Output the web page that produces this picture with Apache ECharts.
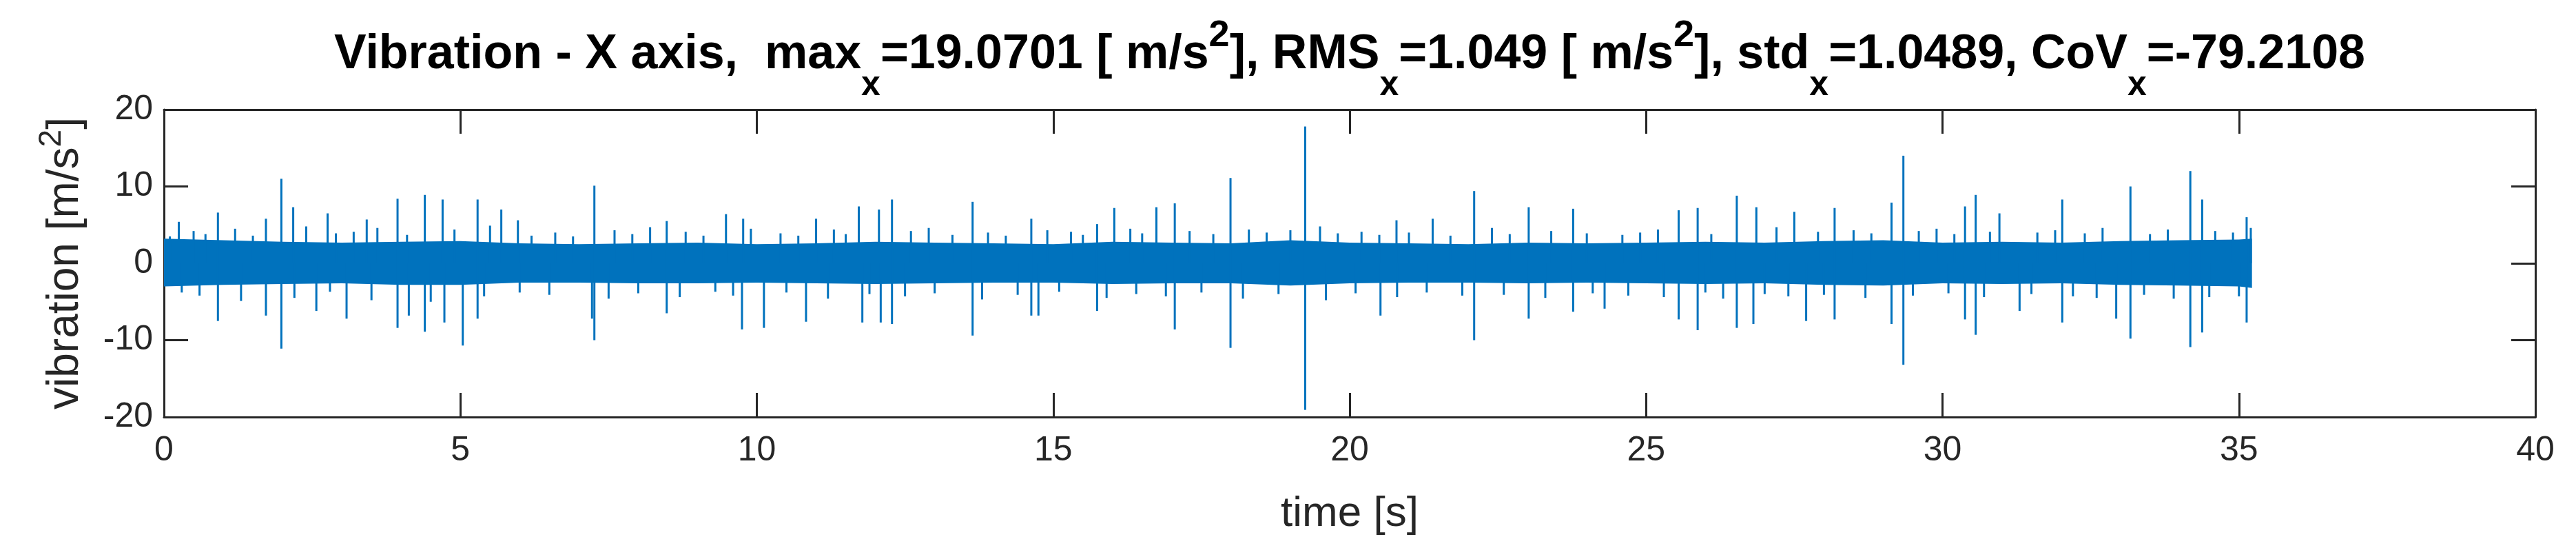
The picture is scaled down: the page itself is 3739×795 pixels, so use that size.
<!DOCTYPE html>
<html>
<head>
<meta charset="utf-8">
<script src="https://cdn.jsdelivr.net/npm/echarts@6/dist/echarts.min.js"></script>
<style>html,body{margin:0;padding:0;background:#fff}#chart{width:3739px;height:795px}</style>
</head>
<body>
<div id="chart"></div>
<script>
// core band of the signal, read once per second
const bandTimes = [0,1,2,3,4,5,6,7,8,9,10,11,12,13,14,15,16,17,18,19,20,21,22,23,24,25,26,27,28,29,30,31,32,33,34,35,35.22];
const bandUpper = [3.2,3.0,2.8,2.7,2.8,2.9,2.6,2.5,2.6,2.7,2.5,2.6,2.8,2.7,2.6,2.5,2.8,2.7,2.6,3.0,2.7,2.6,2.5,2.7,2.6,2.7,2.8,2.7,2.9,3.0,2.7,2.8,2.7,2.9,3.0,3.1,3.2];
const bandLower = [-3.0,-2.8,-2.7,-2.6,-2.8,-2.8,-2.5,-2.5,-2.6,-2.6,-2.5,-2.6,-2.7,-2.6,-2.5,-2.5,-2.7,-2.6,-2.6,-2.9,-2.6,-2.5,-2.5,-2.6,-2.5,-2.6,-2.7,-2.6,-2.8,-2.9,-2.6,-2.7,-2.6,-2.8,-2.9,-3.0,-3.2];

// big spikes [time s, value m/s^2]
const spikeTimes = [0.25,0.91,1.72,1.98,2.18,2.76,3.42,3.94,4.40,4.70,5.29,5.69,5.97,7.26,8.48,9.48,9.77,11.0,11.72,12.06,12.28,13.64,14.63,15.74,16.03,16.74,17.05,17.99,19.25,20.79,21.4,22.10,23.02,23.77,25.55,25.87,26.53,26.86,27.5,28.18,29.14,29.34,30.38,30.56,30.96,32.02,33.17,34.18,34.38,35.13,
  0.91,1.72,1.98,2.57,3.08,3.94,4.13,4.40,4.73,5.04,5.29,7.22,7.26,8.48,9.75,10.12,10.83,11.78,12.09,12.28,13.64,14.63,14.75,15.74,17.05,17.99,19.25,20.52,22.10,23.02,23.77,24.3,25.55,25.87,26.53,26.81,27.7,28.18,29.14,29.34,30.38,30.56,31.3,32.02,32.93,33.17,34.18,34.38,35.13];
const spikeValues = [5.4,6.6,5.8,11.0,7.3,6.5,5.7,8.4,8.9,8.3,8.3,7.0,5.6,10.1,5.5,6.4,5.8,5.8,7.4,7.0,8.3,8.0,5.8,5.1,7.2,7.3,7.8,11.1,17.8,5.6,5.8,9.4,7.3,7.1,6.9,7.2,8.8,7.3,6.7,7.2,7.9,14.0,7.4,8.9,6.5,8.3,10.0,12.0,8.3,6.0,
  -7.5,-6.8,-11.1,-6.2,-7.2,-8.4,-6.8,-8.9,-7.7,-10.7,-7.2,-7.2,-10.0,-6.5,-8.6,-8.4,-7.6,-7.7,-7.7,-7.9,-9.4,-6.8,-6.8,-6.2,-8.6,-11.0,-19.07,-6.8,-10.0,-7.2,-6.3,-5.9,-7.3,-8.7,-8.4,-7.9,-7.5,-7.3,-7.9,-13.2,-7.3,-9.3,-6.2,-7.7,-7.2,-9.8,-10.9,-9.0,-7.7];

// smaller bursts at the edge of the band
const burstTimes = [0.1,0.5,0.7,1.2,1.5,2.4,2.9,3.2,3.6,4.1,4.9,5.5,6.2,6.6,6.9,7.6,7.9,8.2,8.8,9.1,9.9,10.4,10.7,11.3,11.5,12.6,12.9,13.3,13.9,14.2,14.9,15.3,15.5,16.3,16.5,17.3,17.7,18.3,18.6,19.0,19.5,19.8,20.2,20.5,21.0,21.7,22.4,22.7,23.4,24.0,24.6,24.9,25.2,26.1,27.2,27.9,28.5,28.8,29.6,29.9,30.2,30.8,31.6,31.9,32.4,32.7,33.5,33.8,34.6,34.9,35.2,
  0.3,0.6,1.3,2.2,2.8,3.5,4.5,5.4,6.0,6.5,7.5,8.0,8.7,9.3,9.6,10.5,11.2,11.9,12.5,13.0,13.8,14.4,15.1,15.9,16.4,16.9,17.5,18.2,18.8,19.6,20.1,20.8,21.3,21.9,22.6,23.3,24.1,24.7,25.3,26.0,26.3,27.0,27.4,28.0,28.7,29.5,30.1,30.7,31.5,32.2,32.6,33.4,33.9,34.5,35.0];
const burstValues = [3.5,4.2,3.8,4.5,3.6,4.8,3.9,4.1,4.6,3.7,4.4,4.9,3.6,4.0,3.5,4.3,3.8,4.7,4.1,3.6,4.5,3.9,3.6,4.4,3.8,4.2,4.6,3.7,4.0,3.6,4.3,4.1,3.7,4.5,3.9,4.2,3.8,4.4,4.0,4.3,4.8,3.9,4.1,3.7,4.0,3.6,4.6,3.8,4.2,3.9,3.7,4.0,4.4,3.8,4.7,4.1,4.3,3.9,4.2,4.5,3.8,4.1,4.0,4.3,3.9,4.6,3.8,4.4,4.2,4.0,4.6,
  -3.8,-4.2,-4.9,-4.5,-3.7,-4.8,-5.0,-4.3,-3.8,-4.1,-4.6,-3.9,-4.4,-3.7,-4.2,-3.8,-4.6,-4.0,-4.3,-3.9,-4.7,-4.1,-3.7,-4.5,-4.0,-4.3,-3.8,-4.6,-4.0,-4.8,-3.9,-4.4,-3.8,-4.2,-4.1,-4.5,-3.9,-4.2,-4.4,-3.8,-4.6,-4.0,-4.3,-4.1,-4.5,-4.2,-3.9,-4.4,-4.0,-4.3,-4.5,-4.1,-4.6,-4.4,-4.3];

// title pieces: [text, kind]
const titleParts = [
  ['Vibration - X axis,  max', 'n'], ['x', 'sub'], ['=19.0701 [ m/s', 'n'], ['2', 'sup'], ['], RMS', 'n'], ['x', 'sub'],
  ['=1.049 [ m/s', 'n'], ['2', 'sup'], ['], std', 'n'], ['x', 'sub'], ['=1.0489, CoV', 'n'], ['x', 'sub'], ['=-79.2108', 'n']
];

const blue = '#0072BD';
const axisColor = '#262626';
const font = 'Liberation Sans, Arial, Helvetica, sans-serif';

const chart = echarts.init(document.getElementById('chart'), null, { renderer: 'canvas' });

const pairs = (xs, ys) => xs.map((t, i) => [t, ys[i]]);

// title laid out piece by piece so sub/superscripts sit right
const sizes = { n: 70, sub: 50, sup: 54 };
const shifts = { n: 0, sub: 44, sup: -28 };
const ctx = document.createElement('canvas').getContext('2d');
const widths = titleParts.map(([t, k]) => { ctx.font = 'bold ' + sizes[k] + 'px ' + font; return ctx.measureText(t).width; });
const total = widths.reduce((a, b) => a + b, 0);
let cx = 1959 - total / 2;
const titleEls = titleParts.map(([t, k], i) => {
  const el = {
    type: 'text', x: cx, y: 80 + shifts[k],
    style: { text: t, fill: '#000', font: 'bold ' + sizes[k] + 'px ' + font, textVerticalAlign: 'middle' }
  };
  cx += widths[i];
  return el;
});

const tickStyle = { show: true, inside: true, length: 35, lineStyle: { color: axisColor, width: 3 } };
const lineStyle = { show: true, onZero: false, lineStyle: { color: axisColor, width: 3 } };
const labelStyle = { color: axisColor, fontSize: 50, fontFamily: font };

const option = {
  animation: false,
  backgroundColor: '#fff',
  graphic: titleEls,
  grid: { left: 238, top: 159, width: 3442, height: 446, containLabel: false },
  xAxis: [
    {
      type: 'value', min: 0, max: 40, interval: 5, position: 'bottom',
      name: 'time [s]', nameLocation: 'middle', nameGap: 110,
      nameTextStyle: { fontSize: 62, color: axisColor, fontFamily: font },
      axisLine: lineStyle, axisTick: tickStyle,
      axisLabel: Object.assign({ margin: 24 }, labelStyle),
      splitLine: { show: false }
    },
    {
      type: 'value', min: 0, max: 40, interval: 5, position: 'top',
      axisLine: lineStyle, axisTick: tickStyle, axisLabel: { show: false }, splitLine: { show: false }
    }
  ],
  yAxis: [
    {
      type: 'value', min: -20, max: 20, interval: 10, position: 'left',
      name: 'vibration [m/s{sup|2}]', nameLocation: 'middle', nameGap: 100, nameRotate: 90,
      nameTextStyle: {
        fontSize: 64, color: axisColor, fontFamily: font,
        rich: { sup: { fontSize: 46, color: axisColor, fontFamily: font, padding: [0, 0, 40, 0] } }
      },
      axisLine: lineStyle, axisTick: tickStyle,
      axisLabel: Object.assign({ margin: 16 }, labelStyle),
      splitLine: { show: false }
    },
    {
      type: 'value', min: -20, max: 20, interval: 10, position: 'right',
      axisLine: lineStyle, axisTick: tickStyle, axisLabel: { show: false }, splitLine: { show: false }
    }
  ],
  series: [
    {
      // dense core of the signal as a polygon between the envelopes
      type: 'custom', silent: true, clip: true,
      data: [0],
      renderItem: (params, api) => {
        const top = bandTimes.map((t, i) => api.coord([t, bandUpper[i]]));
        const bottom = bandTimes.map((t, i) => api.coord([t, bandLower[i]])).reverse();
        return { type: 'polygon', shape: { points: top.concat(bottom) }, style: { fill: blue } };
      }
    },
    {
      type: 'bar', data: pairs(burstTimes, burstValues), barWidth: 3, barGap: '-100%',
      itemStyle: { color: blue }, silent: true
    },
    {
      type: 'bar', data: pairs(spikeTimes, spikeValues), barWidth: 3, barGap: '-100%',
      itemStyle: { color: blue }, silent: true
    }
  ]
};

chart.setOption(option);
</script>
</body>
</html>
